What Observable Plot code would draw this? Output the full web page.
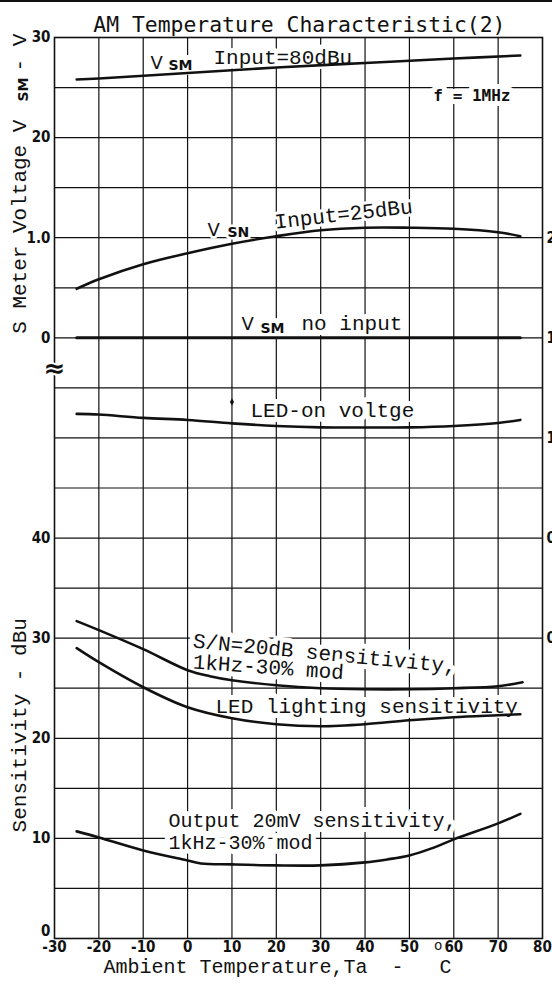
<!DOCTYPE html>
<html>
<head>
<meta charset="utf-8">
<script src="https://cdn.jsdelivr.net/npm/d3@7"></script>
<script src="https://cdn.jsdelivr.net/npm/@observablehq/plot@0.6"></script>
<style>
  body { margin: 0; background: #fff; }
  #wrap { position: relative; width: 552px; height: 984px; overflow: hidden; }
  #topline { position: absolute; left: 0; top: 0; width: 552px; height: 2px; background: #111; z-index: 2; }
  g[aria-label="freq"] text { letter-spacing: 2.5px; }
  g[aria-label="out1"] text { letter-spacing: 1.6px; }
  g[aria-label="out2"] text { letter-spacing: 1.1px; }
</style>
</head>
<body>
<div id="wrap"><div id="topline"></div><div id="chart"></div></div>
<script>
// ---------------- data ----------------
// Temperature (°C)
const vsm80Temps  = [-25, -20, 0, 20, 40, 60, 75];
const vsm80Volts  = [2.58, 2.59, 2.645, 2.70, 2.745, 2.79, 2.82];          // V_SM, input 80 dBu (V)

const vsn25Temps  = [-25, -20, -10, 0, 10, 20, 30, 40, 50, 60, 70, 75];
const vsn25Volts  = [0.49, 0.585, 0.735, 0.845, 0.94, 1.015, 1.075, 1.10, 1.10, 1.09, 1.055, 1.015]; // V_SN, input 25 dBu (V)

const vsmNoTemps  = [-25, 75];
const vsmNoVolts  = [0, 0];                                                  // V_SM, no input (V)

const ledOnTemps  = [-25, -20, -10, 0, 10, 20, 30, 40, 50, 60, 70, 75];
const ledOnVolts  = [1.12, 1.117, 1.10, 1.09, 1.073, 1.06, 1.053, 1.052, 1.053, 1.06, 1.075, 1.09]; // LED-on voltage (V, right axis)
const ledDotTemp  = [10];
const ledDotVolt  = [1.18];

const snTemps     = [-25, -20, -10, 0, 5, 10, 20, 30, 40, 50, 60, 70, 75.5];
const snSens      = [31.7, 30.8, 28.9, 26.8, 26.2, 25.8, 25.3, 25.0, 24.9, 24.9, 25.0, 25.2, 25.6]; // S/N=20dB sensitivity (dBu)

const ledSTemps   = [-25, -20, -10, 0, 10, 20, 30, 40, 50, 60, 70, 75];
const ledSens     = [29.0, 27.6, 25.1, 23.1, 22.0, 21.4, 21.2, 21.4, 21.8, 22.1, 22.3, 22.4]; // LED lighting sensitivity (dBu)

const outTemps    = [-25, -20, -10, 0, 3, 10, 20, 30, 40, 45, 50, 55, 60, 70, 75];
const outSens     = [10.7, 10.1, 8.8, 7.8, 7.5, 7.4, 7.3, 7.3, 7.6, 7.9, 8.3, 9.0, 9.9, 11.5, 12.45]; // Output 20mV sensitivity (dBu)

// axes / grid
const xTickValues = [-30, -20, -10, 0, 10, 20, 30, 40, 50, 60, 70, 80];
const xTickLabels = ["-30", "-20", "-10", "0", "10", "20", "30", "40", "50", "60", "70", "80"];
const xGridValues = [-20, -10, 0, 10, 20, 30, 40, 50, 60, 70];
const yGridValues = [5, 10, 15, 20, 25, 30, 35, 40, 45, 50, 55, 60, 65, 70, 75, 80, 85];
const leftTickValues  = [0, 10, 20, 30, 40, 60, 70, 80, 90];
const leftTickLabels  = ["0", "10", "20", "30", "40", "0", "1.0", "20", "30"];
const rightTickValues = [30, 40, 50, 60, 70];
const rightTickLabels = ["0", "0.5", "1.0", "1.5", "2.0"];

// Shared vertical axis: dBu units directly; S-meter volts map as 60 + 10·V; LED-on volts as 30 + 20·V
const vsmY = v => 60 + 10 * v;
const ledY = v => 30 + 20 * v;

const zip = (xs, ys) => xs.map((x, i) => ({x, y: ys[i]}));
const leftMap  = new Map(leftTickValues.map((v, i) => [v, leftTickLabels[i]]));
const rightMap = new Map(rightTickValues.map((v, i) => [v, rightTickLabels[i]]));
const xMap     = new Map(xTickValues.map((v, i) => [v, xTickLabels[i]]));

const MONO = "'Liberation Mono', 'DejaVu Sans Mono', monospace";
const SANSMONO = "'DejaVu Sans Mono', monospace";
const SANS = "'DejaVu Sans', sans-serif";
const NARROW = "'Liberation Sans Narrow', 'DejaVu Sans Condensed', 'DejaVu Sans', sans-serif";
const INK = "#111";

function label(text, x, y, o = {}) {
  return Plot.text([text], {
    x, y, textAnchor: "start", lineAnchor: "bottom",
    fontFamily: MONO, fontSize: 21, fill: INK,
    stroke: "white", strokeWidth: 10, ...o
  });
}
function curve(xs, ys, o = {}) {
  return Plot.line(zip(xs, ys), {x: "x", y: "y", stroke: INK, strokeWidth: 2.6, curve: "catmull-rom", ...o});
}

const chart = Plot.plot({
  width: 552,
  height: 984,
  marginTop: 37,
  marginBottom: 46,
  marginLeft: 54,
  marginRight: 10,
  style: {background: "#fff", color: INK, fontFamily: NARROW},
  x: {domain: [-30, 80], axis: null},
  y: {domain: [0, 90], axis: null},
  marks: [
    // grid
    Plot.ruleX(xGridValues, {stroke: INK, strokeWidth: 1.2}),
    Plot.ruleY(yGridValues, {stroke: INK, strokeWidth: 1.2}),

    // axes
    Plot.axisX(xTickValues, {anchor: "bottom", tickSize: 0, tickPadding: 3, label: null,
      tickFormat: d => xMap.get(d), fontSize: 15, fontWeight: "bold", fontFamily: NARROW}),
    Plot.axisY(leftTickValues.filter(v => v !== 0), {anchor: "left", tickSize: 0, tickPadding: 4, label: null,
      tickFormat: d => leftMap.get(d), fontSize: 15, fontWeight: "bold", fontFamily: NARROW}),
    Plot.text([leftMap.get(0)], {x: -30, y: 0, dx: -4, dy: -3, textAnchor: "end", lineAnchor: "bottom",
      fontSize: 15, fontWeight: "bold", fontFamily: NARROW, fill: INK}),
    Plot.axisY(rightTickValues, {anchor: "right", tickSize: 0, tickPadding: 4, label: null,
      tickFormat: d => rightMap.get(d), fontSize: 15, fontWeight: "bold", fontFamily: NARROW}),

    // title and axis titles
    Plot.text(["AM Temperature Characteristic(2)"], {x: 25.2, y: 90.5, textAnchor: "middle", lineAnchor: "bottom",
      fontFamily: SANSMONO, fontSize: 21.4, fill: INK}),
    Plot.text(["S Meter Voltage V"], {x: -36.5, y: 60.4, rotate: -90, textAnchor: "start", lineAnchor: "bottom",
      fontFamily: MONO, fontSize: 21, fill: INK}),
    Plot.text(["SM"], {x: -35.9, y: 83.6, rotate: -90, textAnchor: "start", lineAnchor: "bottom",
      fontFamily: SANS, fontWeight: "bold", fontSize: 14, fill: INK}),
    Plot.text(["- V"], {x: -36.5, y: 86.6, rotate: -90, textAnchor: "start", lineAnchor: "bottom",
      fontFamily: MONO, fontSize: 21, fill: INK}),
    Plot.text(["Sensitivity - dBu"], {x: -36.5, y: 21.3, rotate: -90, textAnchor: "middle", lineAnchor: "bottom",
      fontFamily: MONO, fontSize: 21, fill: INK}),
    Plot.text(["Ambient Temperature,Ta  -   C"], {x: -18.95, y: -3.4, textAnchor: "start", lineAnchor: "bottom",
      fontFamily: MONO, fontSize: 20, fill: INK}),
    Plot.text(["o"], {x: 56.5, y: -1.15, textAnchor: "middle", lineAnchor: "bottom",
      fontFamily: MONO, fontSize: 14, fill: INK}),

    // curve labels (white halo hides the grid behind them)
    label("V", -8.36, 86.9, {fontFamily: SANS, fontSize: 18}),
    label("SM", -4.3, 86.8, {fontFamily: SANS, fontSize: 14, fontWeight: "bold"}),
    label("Input=80dBu", 5.84, 87.4),
    label("f = 1MHz", 55.4, 83.7, {fontFamily: SANSMONO, fontSize: 16, fontWeight: "bold", ariaLabel: "freq"}),

    label("V", 4.49, 70.2, {fontFamily: SANS, fontSize: 18, strokeWidth: 5}),
    label("SN", 9.0, 70.1, {fontFamily: SANS, fontSize: 14, fontWeight: "bold", strokeWidth: 5}),
    label("Input=25dBu", 19.8, 70.9, {rotate: -6.5, strokeWidth: 6}),

    label("V", 12.15, 60.75, {fontFamily: SANS, fontSize: 18}),
    label("SM", 16.43, 60.45, {fontFamily: SANS, fontSize: 14, fontWeight: "bold"}),
    label("no input", 25.68, 60.75),

    label("LED-on voltge", 14.18, 52.05),

    label("S/N=20dB sensitivity,", 1.1, 29.07, {rotate: 5.5}),
    label("1kHz-30% mod", 1.1, 26.97, {rotate: 4}),
    label("LED lighting sensitivity", 6.29, 22.57),

    label("Output 20mV sensitivity,", -4.3, 11.15, {fontSize: 20, ariaLabel: "out1"}),
    label("1kHz-30% mod", -4.3, 8.9, {fontSize: 20, ariaLabel: "out2"}),

    // curves
    curve(vsm80Temps, vsm80Volts.map(vsmY)),
    curve(vsn25Temps, vsn25Volts.map(vsmY)),
    curve(vsmNoTemps, vsmNoVolts.map(vsmY), {strokeWidth: 3}),
    curve(ledOnTemps, ledOnVolts.map(ledY)),
    Plot.dot(zip(ledDotTemp, ledDotVolt.map(ledY)), {x: "x", y: "y", r: 2.2, fill: INK, symbol: "diamond"}),
    curve(snTemps, snSens),
    curve(ledSTemps, ledSens),
    curve(outTemps, outSens),

    // frame and axis break
    Plot.frame({stroke: INK, strokeWidth: 1.6}),
    Plot.text(["≈"], {x: -30, y: 56.9, textAnchor: "middle", lineAnchor: "middle",
      fontFamily: SANS, fontSize: 26, fontWeight: "bold", fill: INK,
      stroke: "white", strokeWidth: 4})
  ]
});
document.getElementById("chart").appendChild(chart);
</script>
</body>
</html>
